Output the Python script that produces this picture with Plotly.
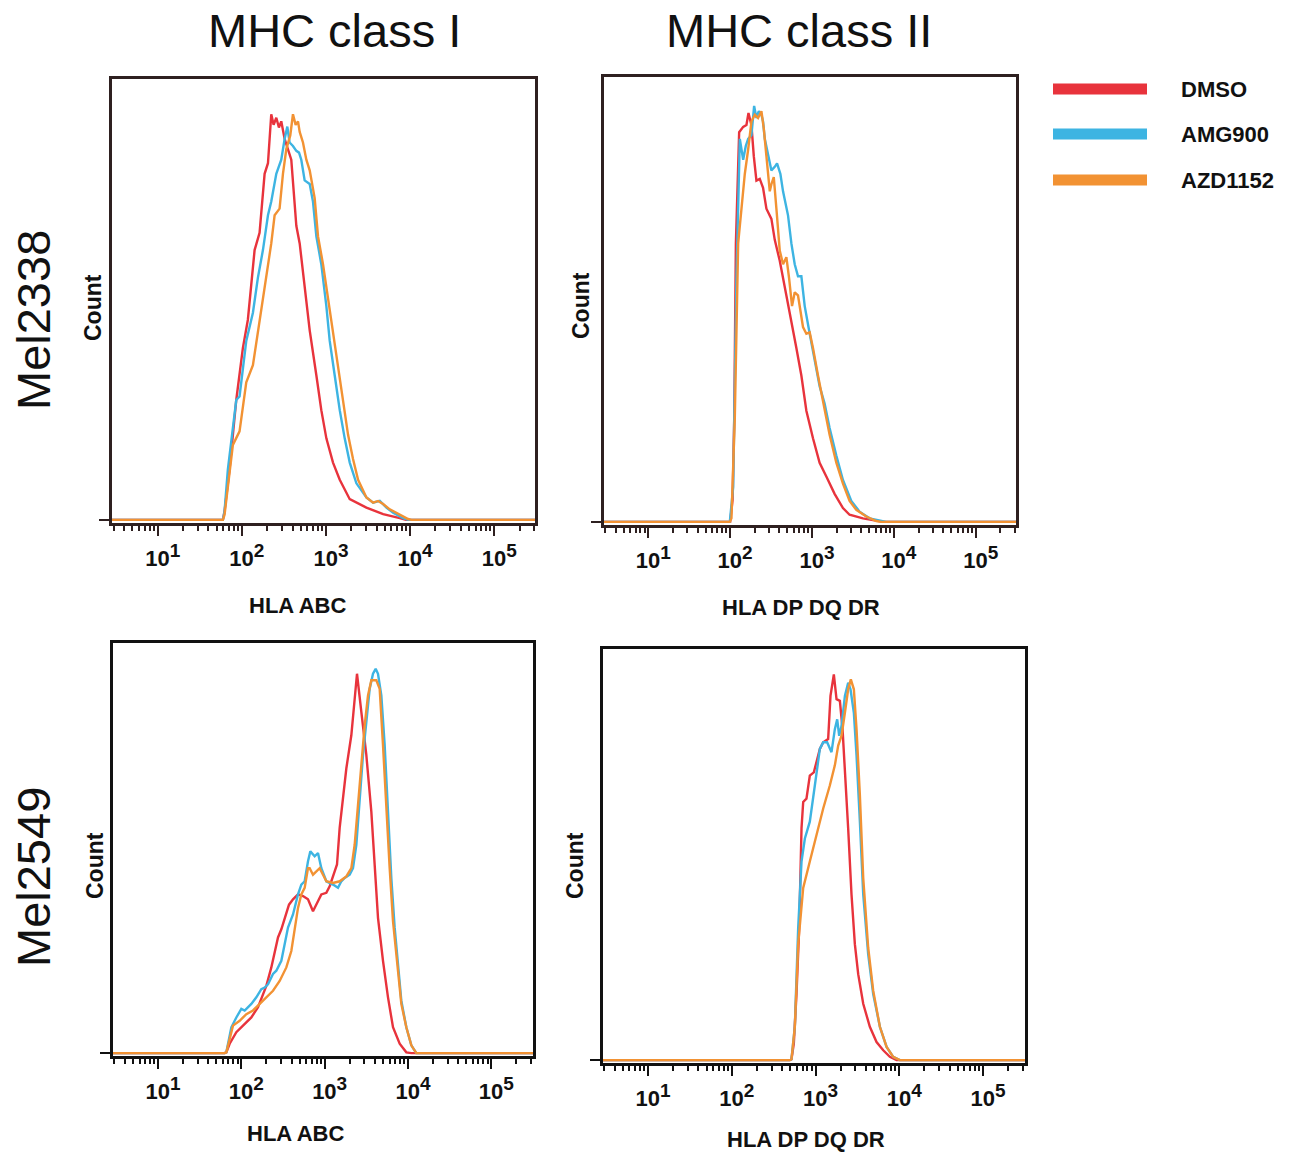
import plotly.graph_objects as go

# ---------------- data (x in log10 units, y in % of max count) ----------------
series_names = ["DMSO", "AMG900", "AZD1152"]
series_colors = ["#e8333c", "#3db4e2", "#f29233"]
tick_vals = [10, 100, 1000, 10000, 100000]
tick_exp = ["1", "2", "3", "4", "5"]
col_titles = ["MHC class I", "MHC class II"]
row_titles = ["Mel2338", "Mel2549"]
x_titles = ["HLA ABC", "HLA DP DQ DR", "HLA ABC", "HLA DP DQ DR"]

# Panel 1: Mel2338, HLA ABC
p1_dmso_lx = [0.3, 1.774, 1.794, 1.853, 1.893, 1.933, 2.012, 2.071, 2.151, 2.210, 2.270, 2.310, 2.349, 2.377, 2.409, 2.440, 2.468, 2.508, 2.587, 2.647, 2.687, 2.746, 2.806, 2.885, 2.944, 3.004, 3.083, 3.163, 3.282, 3.480, 3.679, 3.877, 3.95, 5.7]
p1_dmso_y = [0, 0, 2, 11.4, 19.3, 27.2, 39, 45.4, 61.2, 65.1, 78.5, 80.9, 92, 89.6, 91.2, 89.0, 90.4, 86.4, 81.7, 66.7, 62.7, 53.3, 43, 32.8, 24.9, 18.5, 13, 9.1, 4.7, 2.8, 1.3, 0.4, 0, 0]
p1_amg_lx = [0.3, 1.774, 1.794, 1.833, 1.933, 1.972, 2.052, 2.131, 2.190, 2.250, 2.310, 2.349, 2.409, 2.468, 2.508, 2.540, 2.567, 2.607, 2.647, 2.679, 2.706, 2.746, 2.806, 2.845, 2.885, 2.944, 3.004, 3.044, 3.103, 3.163, 3.222, 3.282, 3.361, 3.480, 3.560, 3.639, 3.718, 3.798, 3.917, 3.976, 5.7]
p1_amg_y = [0, 0, 2, 11.4, 27.2, 28, 40.6, 47, 54.9, 61.2, 69.1, 72.2, 78.5, 81.7, 86.4, 89.2, 85.6, 84.8, 83.7, 83.3, 81.7, 77, 76.2, 72.2, 64.3, 58, 48.5, 40.6, 32.8, 24.9, 18.5, 13, 8.3, 5.1, 3.9, 4.3, 2.8, 1.6, 0.4, 0, 0]
p1_azd_lx = [0.3, 1.774, 1.794, 1.853, 1.893, 1.972, 2.052, 2.131, 2.210, 2.290, 2.349, 2.389, 2.448, 2.488, 2.528, 2.575, 2.607, 2.639, 2.667, 2.687, 2.726, 2.766, 2.806, 2.865, 2.905, 2.964, 3.024, 3.083, 3.143, 3.202, 3.262, 3.321, 3.381, 3.480, 3.560, 3.619, 3.679, 3.758, 3.877, 3.976, 4.016, 5.7]
p1_azd_y = [0, 0, 1.2, 11.4, 17, 20.1, 31.2, 35.1, 45.4, 54.9, 62.7, 69.1, 70.6, 78.5, 84.1, 87.2, 92, 89.6, 90.4, 88, 85.6, 81.7, 79.3, 73, 64.3, 58, 50.1, 42.2, 34.3, 26.4, 19.3, 13.8, 9.1, 5.1, 3.9, 4.3, 3.6, 2.4, 1.2, 0.2, 0, 0]

# Panel 2: Mel2338, HLA DP DQ DR
p2_dmso_lx = [0.3, 2.00, 2.03, 2.05, 2.07, 2.110, 2.159, 2.199, 2.224, 2.260, 2.289, 2.321, 2.362, 2.402, 2.443, 2.504, 2.545, 2.606, 2.687, 2.748, 2.809, 2.870, 2.931, 3.012, 3.093, 3.175, 3.276, 3.378, 3.459, 3.622, 3.785, 3.866, 5.7]
p2_dmso_y = [0, 0, 5, 23.5, 62.6, 87.6, 88.8, 89.2, 91.9, 89.2, 82.2, 76.7, 77.1, 75.1, 70.4, 68.1, 63.4, 58.7, 50.9, 45.4, 39.1, 32.9, 25, 18.8, 13.3, 10.2, 6.3, 3.1, 1.6, 0.8, 0.2, 0, 0]
p2_amg_lx = [0.3, 1.996, 2.037, 2.077, 2.118, 2.159, 2.191, 2.220, 2.260, 2.293, 2.321, 2.350, 2.382, 2.402, 2.423, 2.463, 2.504, 2.545, 2.573, 2.614, 2.646, 2.707, 2.748, 2.789, 2.829, 2.870, 2.911, 2.972, 3.033, 3.093, 3.154, 3.215, 3.297, 3.378, 3.480, 3.581, 3.703, 3.846, 3.907, 5.7]
p2_amg_y = [0, 0, 7.8, 54.8, 86.1, 81.4, 84.5, 86.1, 86.9, 93.5, 90.8, 92.3, 91.5, 90, 86.1, 82.9, 79, 79.8, 80.6, 78.2, 74.3, 68.9, 62.6, 57.9, 55.2, 55.2, 48.5, 42.3, 36, 30.5, 26.6, 21.1, 14.9, 9.4, 4.7, 2.3, 0.8, 0.2, 0, 0]
p2_azd_lx = [0.3, 1.996, 2.016, 2.057, 2.098, 2.138, 2.179, 2.220, 2.260, 2.301, 2.341, 2.382, 2.411, 2.443, 2.484, 2.504, 2.533, 2.565, 2.606, 2.646, 2.687, 2.720, 2.756, 2.789, 2.829, 2.890, 2.931, 2.972, 3.012, 3.073, 3.134, 3.215, 3.297, 3.378, 3.459, 3.541, 3.663, 3.785, 3.846, 5.7]
p2_azd_y = [0, 0, 0.8, 23.5, 62.6, 70.4, 78.2, 83.7, 90, 91.5, 90.8, 92.3, 88.4, 82.2, 74.3, 75.9, 77.5, 70.4, 61, 57.9, 59.5, 54.8, 48.5, 51.6, 50.9, 43.8, 42.3, 42.6, 39.1, 32.9, 27.4, 19.6, 13.3, 8.6, 4.7, 2.7, 1.2, 0.2, 0, 0]

# Panel 3: Mel2549, HLA ABC
p3_dmso_lx = [0.3, 1.80, 1.82, 1.86, 1.94, 2.02, 2.12, 2.20, 2.26, 2.30, 2.36, 2.40, 2.44, 2.48, 2.52, 2.572, 2.62, 2.68, 2.74, 2.80, 2.86, 2.90, 2.96, 3.02, 3.06, 3.12, 3.148, 3.18, 3.22, 3.26, 3.32, 3.36, 3.388, 3.44, 3.50, 3.56, 3.60, 3.64, 3.70, 3.76, 3.82, 3.90, 3.98, 4.04, 5.7]
p3_dmso_y = [0, 0, 0.2, 2.3, 5.1, 6.7, 8.7, 11.2, 14.4, 16.4, 20.9, 24.9, 28.2, 30.2, 33, 36.2, 37.5, 38.7, 38.3, 37.5, 34.6, 36.2, 38.7, 39.1, 40.7, 44.3, 46, 54.9, 62.9, 69.4, 77.5, 87.2, 92.5, 83.2, 72.7, 58.9, 45.1, 33, 22.5, 13.6, 6.3, 2.3, 0.2, 0, 0]
p3_amg_lx = [0.3, 1.80, 1.82, 1.88, 1.94, 2.00, 2.04, 2.08, 2.12, 2.18, 2.24, 2.28, 2.32, 2.38, 2.42, 2.48, 2.52, 2.56, 2.62, 2.68, 2.72, 2.76, 2.80, 2.828, 2.88, 2.92, 2.96, 3.02, 3.10, 3.16, 3.20, 3.24, 3.30, 3.34, 3.38, 3.42, 3.46, 3.50, 3.54, 3.58, 3.612, 3.64, 3.68, 3.72, 3.76, 3.80, 3.84, 3.88, 3.92, 3.98, 4.04, 4.10, 5.7]
p3_amg_y = [0, 0, 0.2, 6.3, 8.7, 10.8, 10.4, 11.2, 12, 13.6, 15.6, 16, 16.8, 19.3, 20.1, 22.5, 26.5, 30.6, 33.8, 38.7, 41.1, 41.9, 46.8, 49.2, 48, 48.8, 45.1, 41.9, 41.1, 40.3, 41.9, 42.7, 43.5, 45.1, 50.8, 61.3, 72.7, 80.7, 88.8, 92.5, 93.7, 92.5, 87.2, 75.1, 58.9, 42.7, 30.6, 20.9, 12.8, 6.3, 1.9, 0, 0]
p3_azd_lx = [0.3, 1.80, 1.82, 1.90, 1.98, 2.06, 2.14, 2.22, 2.30, 2.38, 2.46, 2.54, 2.60, 2.64, 2.68, 2.72, 2.76, 2.80, 2.82, 2.86, 2.90, 2.94, 2.98, 3.02, 3.10, 3.18, 3.26, 3.32, 3.36, 3.40, 3.44, 3.48, 3.52, 3.56, 3.62, 3.66, 3.70, 3.74, 3.78, 3.82, 3.88, 3.92, 3.98, 4.04, 4.10, 5.7]
p3_azd_y = [0, 0, 0.2, 6.7, 7.9, 9.5, 10.4, 12, 13.6, 15.2, 17.6, 20.9, 24.9, 30.6, 35.4, 38.7, 40.3, 45.1, 45.1, 43.5, 44.3, 45.1, 43.5, 41.9, 41.5, 41.9, 43.1, 45.1, 50.8, 60.5, 71, 79.9, 87.2, 90.9, 90.9, 88.8, 75.1, 58.9, 45.1, 32.2, 19.3, 12, 6.3, 1.9, 0, 0]

# Panel 4: Mel2549, HLA DP DQ DR
p4_dmso_lx = [0.3, 2.693, 2.713, 2.741, 2.773, 2.805, 2.833, 2.853, 2.892, 2.932, 2.980, 3.012, 3.052, 3.092, 3.151, 3.179, 3.219, 3.251, 3.291, 3.323, 3.351, 3.390, 3.430, 3.470, 3.510, 3.570, 3.649, 3.729, 3.809, 3.888, 3.968, 5.7]
p4_dmso_y = [0, 0, 0.2, 4, 16.1, 32.2, 56.4, 62.8, 63.6, 69.2, 70, 72.5, 75.7, 77.3, 78.1, 88.6, 93.8, 87.8, 87.4, 80.5, 70.9, 56.4, 40.3, 28.2, 20.9, 13.7, 8.1, 4.4, 2.4, 0.8, 0, 0]
p4_amg_lx = [0.3, 2.693, 2.713, 2.753, 2.793, 2.833, 2.873, 2.932, 2.992, 3.052, 3.092, 3.139, 3.191, 3.231, 3.259, 3.283, 3.311, 3.351, 3.390, 3.418, 3.458, 3.490, 3.530, 3.570, 3.629, 3.689, 3.769, 3.849, 3.928, 4.008, 5.7]
p4_amg_y = [0, 0, 0.2, 8.1, 32.2, 48.3, 53.9, 58, 66.8, 75.7, 77.3, 77.3, 74.9, 80.5, 82.9, 78.9, 81.3, 88.6, 91.8, 90.2, 84.5, 74.1, 58, 40.3, 25.8, 16.1, 8.1, 3.2, 0.8, 0, 0]
p4_azd_lx = [0.3, 2.693, 2.713, 2.753, 2.793, 2.853, 2.932, 3.012, 3.092, 3.171, 3.231, 3.271, 3.311, 3.351, 3.390, 3.422, 3.458, 3.490, 3.530, 3.570, 3.629, 3.689, 3.769, 3.849, 3.928, 4.008, 5.7]
p4_azd_y = [0, 0, 0.2, 8.1, 28.2, 41.9, 48.3, 54.8, 61.2, 66.8, 71.7, 76.5, 78.9, 84.5, 90.2, 92.6, 90.2, 80.5, 64.4, 44.3, 27.4, 16.9, 8.1, 3.2, 0.8, 0, 0]

panels = [
    [(p1_dmso_lx, p1_dmso_y), (p1_amg_lx, p1_amg_y), (p1_azd_lx, p1_azd_y)],
    [(p2_dmso_lx, p2_dmso_y), (p2_amg_lx, p2_amg_y), (p2_azd_lx, p2_azd_y)],
    [(p3_dmso_lx, p3_dmso_y), (p3_amg_lx, p3_amg_y), (p3_azd_lx, p3_azd_y)],
    [(p4_dmso_lx, p4_dmso_y), (p4_amg_lx, p4_amg_y), (p4_azd_lx, p4_azd_y)],
]

# ---------------- layout geometry (pixels) ----------------
W, H = 1290, 1154
FONT = "Liberation Sans, Arial, sans-serif"
frames = [(112, 535, 79, 523), (604, 1016, 77, 525), (113, 533, 643, 1056), (603, 1025, 649, 1063)]
xranges = [(0.456, 5.484), (0.459, 5.492), (0.46, 5.5), (0.462, 5.502)]
frame_colors = ["#2e2020", "#2e2020", "#111111", "#111111"]
tick_text = ["<b>10<sup><span style='font-size:19px'>%s</span></sup></b>" % e for e in tick_exp]


def px(x):
    return x / W


def py(y):
    return 1 - y / H


fig = go.Figure()
layout = {}
for i, (series, fr, xr, fc) in enumerate(zip(panels, frames, xranges, frame_colors)):
    n = "" if i == 0 else str(i + 1)
    for j, (lx, yv) in enumerate(series):
        fig.add_trace(go.Scatter(
            x=[10 ** v for v in lx], y=yv, mode="lines",
            line=dict(color=series_colors[j], width=2.4),
            name=series_names[j], showlegend=False,
            xaxis="x" + n, yaxis="y" + n, hoverinfo="skip"))
    l, r, t, b = fr
    layout["xaxis" + n] = dict(
        type="log", range=list(xr), domain=[px(l), px(r)], anchor="y" + n,
        showline=True, linecolor=fc, linewidth=3, mirror=True,
        showgrid=False, zeroline=False,
        tickmode="array", tickvals=tick_vals, ticktext=tick_text,
        ticks="outside", ticklen=10, tickwidth=2, tickcolor=fc,
        minor=dict(ticks="outside", ticklen=5, tickwidth=2, tickcolor=fc, dtick="D1", showgrid=False),
        tickfont=dict(family=FONT, size=22, color="#111111"),
        ticklabelstandoff=4, ticklabelshift=5,
        fixedrange=True)
    layout["yaxis" + n] = dict(
        range=[-0.7, 100], domain=[py(b), py(t)], anchor="x" + n,
        showline=True, linecolor=fc, linewidth=3, mirror=True,
        showgrid=False, zeroline=False,
        tickmode="array", tickvals=[0], ticktext=[""],
        ticks="outside", ticklen=10, tickwidth=2, tickcolor=fc,
        fixedrange=True)

annotations = []
shapes = []
# legend (swatches + labels)
for j, cy in enumerate([89, 134, 180]):
    shapes.append(dict(type="line", xref="paper", yref="paper",
                       x0=px(1053), x1=px(1147), y0=py(cy), y1=py(cy),
                       line=dict(color=series_colors[j], width=11)))
    annotations.append(dict(text="<b>" + series_names[j] + "</b>", x=px(1179), y=py(cy),
                            xref="paper", yref="paper", showarrow=False,
                            font=dict(family=FONT, size=22, color="#111111"),
                            xanchor="left", yanchor="middle"))
# column titles
for txt, cx in zip(col_titles, [334, 799]):
    annotations.append(dict(text=txt, x=px(cx), y=py(31), xref="paper", yref="paper",
                            showarrow=False, font=dict(family=FONT, size=47, color="#111111"),
                            xanchor="center", yanchor="middle"))
# row titles
for txt, cy in zip(row_titles, [320, 877]):
    annotations.append(dict(text=txt, x=px(33), y=py(cy), xref="paper", yref="paper",
                            showarrow=False, textangle=-90,
                            font=dict(family=FONT, size=47, color="#111111"),
                            xanchor="center", yanchor="middle"))
# Count labels
for cx, cy in [(93, 308), (581, 306), (95, 866), (575, 866)]:
    annotations.append(dict(text="<b>Count</b>", x=px(cx), y=py(cy), xref="paper", yref="paper",
                            showarrow=False, textangle=-90,
                            font=dict(family=FONT, size=23, color="#111111"),
                            xanchor="center", yanchor="middle"))
# x-axis titles
for txt, (cx, cy) in zip(x_titles, [(297, 605), (801, 607), (295, 1133), (806, 1139)]):
    annotations.append(dict(text="<b>" + txt + "</b>", x=px(cx), y=py(cy), xref="paper", yref="paper",
                            showarrow=False, font=dict(family=FONT, size=22, color="#111111"),
                            xanchor="center", yanchor="middle"))

fig.update_layout(
    width=W, height=H, margin=dict(l=0, r=0, t=0, b=0),
    paper_bgcolor="white", plot_bgcolor="white",
    showlegend=False,
    annotations=annotations, shapes=shapes,
    **layout)

fig.write_html("out.html")
